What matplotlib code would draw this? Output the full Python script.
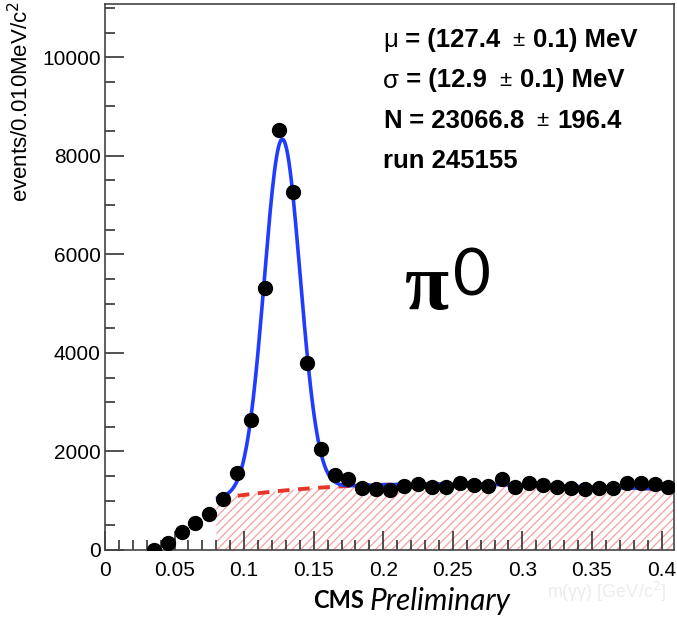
import numpy as np
import matplotlib
matplotlib.use("Agg")
import matplotlib.pyplot as plt
from matplotlib.ticker import MultipleLocator

# data
bin_centers = [0.035, 0.045, 0.055, 0.065, 0.075, 0.085, 0.095, 0.105, 0.115, 0.125,
               0.135, 0.145, 0.155, 0.165, 0.175, 0.185, 0.195, 0.205, 0.215, 0.225,
               0.235, 0.245, 0.255, 0.265, 0.275, 0.285, 0.295, 0.305, 0.315, 0.325,
               0.335, 0.345, 0.355, 0.365, 0.375, 0.385, 0.395, 0.405]
counts = [0, 142, 371, 554, 730, 1040, 1556, 2637, 5310, 8519,
          7268, 3787, 2049, 1521, 1440, 1251, 1237, 1217, 1298, 1332,
          1271, 1271, 1352, 1318, 1305, 1440, 1271, 1365, 1318, 1285,
          1251, 1237, 1251, 1251, 1365, 1352, 1332, 1271]

# background (red dashed) read at a few masses
bkg_x = [0.08, 0.10, 0.12, 0.14, 0.16, 0.18, 0.20, 0.25, 0.30, 0.35, 0.40]
bkg_y = [1030, 1120, 1190, 1245, 1280, 1300, 1315, 1330, 1325, 1290, 1235]

# fit parameters shown in the box
mu = 0.1274
sigma = 0.0129
n_sig = 23066.8
bin_w = 0.010

fit_lo, fit_hi = 0.081, 0.400

fig = plt.figure(figsize=(6.77, 6.17), dpi=100)
ax = fig.add_axes([0.1551, 0.1086, 0.8405, 0.885])

bcoef = np.polyfit(bkg_x, bkg_y, 3)
xf = np.linspace(fit_lo, fit_hi, 400)
bk = np.polyval(bcoef, xf)
amp = n_sig * bin_w / (sigma * np.sqrt(2 * np.pi))
tot = bk + amp * np.exp(-0.5 * ((xf - mu) / sigma) ** 2)

# hatched background area
xh = np.linspace(0.08, 0.409, 400)
plt.rcParams['hatch.linewidth'] = 0.9
ax.fill_between(xh, 0, np.polyval(bcoef, xh), facecolor='none',
                edgecolor='#f4a0a0', hatch='////', linewidth=0, zorder=1)

ax.plot(xf, bk, color='#e8352a', lw=2.8, dashes=(3, 2.2), zorder=2)
ax.plot(xf, tot, color='#1f3cff', lw=2.6, zorder=3)
ax.plot(bin_centers, counts, 'o', color='black', ms=10, zorder=4)

ax.set_xlim(0, 0.409)
ax.set_ylim(0, 11080)

ax.xaxis.set_major_locator(MultipleLocator(0.05))
ax.xaxis.set_minor_locator(MultipleLocator(0.01))
ax.yaxis.set_major_locator(MultipleLocator(2000))
ax.yaxis.set_minor_locator(MultipleLocator(500))
ax.tick_params(which='both', direction='in', top=False, right=False,
               labelsize=15, color='#333333', width=1.2)
ax.tick_params(which='major', length=14)
ax.tick_params(which='minor', length=7)
ax.tick_params(axis='x', pad=8)
ax.tick_params(axis='y', pad=3)
ax.set_xticks([0, 0.05, 0.1, 0.15, 0.2, 0.25, 0.3, 0.35, 0.4])
ax.set_xticklabels(['0', '0.05', '0.1', '0.15', '0.2', '0.25', '0.3', '0.35', '0.4'],
                   family='Liberation Sans')
for t in ax.get_yticklabels():
    t.set_family('Liberation Sans')
for s in ax.spines.values():
    s.set_color('#444444')
    s.set_linewidth(1.2)

fig.text(0.03, 0.998, 'events/0.010MeV/c$^2$', rotation=90, ha='center', va='top',
         fontsize=16, family='Liberation Sans')

# fit results
lines = [('\u03bc', ' = (127.4', '\u00b1', '0.1) MeV'),
         ('\u03c3', ' = (12.9', '\u00b1', '0.1) MeV'),
         ('N', ' = 23066.8', '\u00b1', '196.4'),
         ('run 245155', '', '', '')]
for i, (a, b, pm, c) in enumerate(lines):
    y = 1 - (40 + i * 40.5) / 617
    t = fig.text(383 / 677, y, a, ha='left', va='center', fontsize=18.5,
                 fontweight='normal' if a in ('\u03bc', '\u03c3') else 'bold',
                 family='Liberation Sans')
    if b:
        t2 = ax.annotate(b, xycoords=t, xy=(1, 0.5), va='center', ha='left',
                         fontsize=18.5, fontweight='bold', family='Liberation Sans',
                         annotation_clip=False)
        t3 = ax.annotate(pm, xycoords=t2, xy=(1, 0.5), xytext=(9, 0),
                         textcoords='offset points', va='center', ha='left',
                         fontsize=16, family='Liberation Sans', annotation_clip=False)
        ax.annotate(c, xycoords=t3, xy=(1, 0.5), xytext=(6, 0),
                    textcoords='offset points', va='center', ha='left',
                    fontsize=18.5, fontweight='bold', family='Liberation Sans',
                    annotation_clip=False)

fig.text(405 / 677, 1 - 290 / 617, '\u03c0', fontsize=58, family='Liberation Serif',
         fontweight='bold', ha='left', va='center')
fig.text(453 / 677, 1 - 277 / 617, '0', fontsize=47, family='Lato',
         ha='left', va='center')

# faded original axis title
fig.text(0.985, 1 - 592 / 617, 'm(\u03b3\u03b3) [GeV/c$^2$]', ha='right', va='center',
         fontsize=13, color='#ececec', family='Liberation Sans')

fig.text(313 / 677, 1 - 601 / 617, 'CMS', fontsize=17, fontweight='bold', family='Lato',
         ha='left', va='center')
fig.text(370 / 677, 1 - 601 / 617, 'Preliminary', fontsize=21.5, style='italic', family='Lato',
         ha='left', va='center')

fig.savefig('out.png', dpi=100)
